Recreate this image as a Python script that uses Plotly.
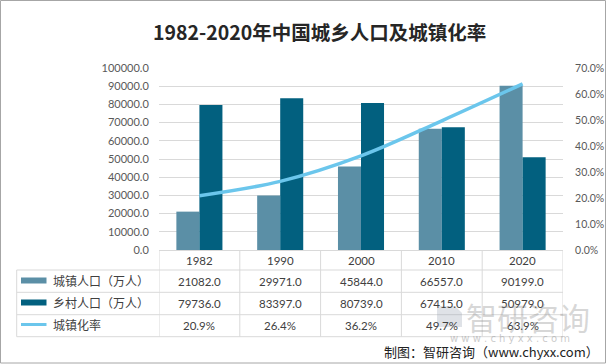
import plotly.graph_objects as go

# ---------------- data ----------------
years = ['1982', '1990', '2000', '2010', '2020']
urban = [21082.0, 29971.0, 45844.0, 66557.0, 90199.0]
rural = [79736.0, 83397.0, 80739.0, 67415.0, 50979.0]
rate = [20.9, 26.4, 36.2, 49.7, 63.9]
series_names = ['城镇人口（万人）', '乡村人口（万人）', '城镇化率']
title_text = '1982-2020年中国城乡人口及城镇化率'
source_text = '制图：智研咨询（www.chyxx.com）'

# ---------------- style ----------------
C_URBAN = '#5B8FA6'
C_RURAL = '#02607F'
C_LINE = '#6BC6EC'
C_GRID = '#D9D9D9'
C_TICK = '#595959'
C_TEXT = '#404040'
NUM_FONT = 'Lato, Open Sans, sans-serif'
CJK_FONT = 'Noto Sans CJK SC, sans-serif'

W, H = 606, 364
L, R, T, B = 159, 563, 68, 250


def px(xp):
    return (xp - L) / (R - L)


def py(yp):
    return (B - yp) / (B - T)


fig = go.Figure()
fig.add_trace(go.Bar(x=years, y=urban, name=series_names[0], marker_color=C_URBAN,
                     marker_line_width=0))
fig.add_trace(go.Bar(x=years, y=rural, name=series_names[1], marker_color=C_RURAL,
                     marker_line_width=0))
fig.add_trace(go.Scatter(x=years, y=[r / 100 for r in rate], name=series_names[2],
                         yaxis='y2', mode='lines',
                         line=dict(color=C_LINE, width=3.5, shape='spline', smoothing=1)))

shapes = []
annotations = []


def ann(**kw):
    kw.setdefault('showarrow', False)
    kw.setdefault('xanchor', 'center')
    kw.setdefault('yanchor', 'middle')
    annotations.append(kw)


# table lines
row_lines = [270, 292.3, 314.7, 336.7]
for yl in row_lines:
    shapes.append(dict(type='line', xref='paper', yref='paper', x0=px(16.7), x1=1,
                       y0=py(yl), y1=py(yl), line=dict(color=C_GRID, width=1)))
shapes.append(dict(type='line', xref='paper', yref='paper', x0=px(16.7), x1=px(16.7),
                   y0=py(270), y1=py(336.7), line=dict(color=C_GRID, width=1)))
for i in range(len(years) + 1):
    shapes.append(dict(type='line', xref='x', yref='paper', x0=i - 0.5, x1=i - 0.5,
                       y0=0, y1=py(336.7), line=dict(color=C_GRID, width=1)))

# header + cell text
row_centers = [281, 303.5, 325.7]
for i, yr in enumerate(years):
    ann(x=i, y=py(260), xref='x', yref='paper', text=yr,
        font=dict(family=NUM_FONT, size=11.5, color=C_TEXT))
    cells = [f'{urban[i]:.1f}', f'{rural[i]:.1f}', f'{rate[i]:.1f}%']
    for j, c in enumerate(cells):
        ann(x=i, y=py(row_centers[j]), xref='x', yref='paper', text=c,
            font=dict(family=NUM_FONT, size=11.5, color=C_TEXT))

# legend column
for j, name in enumerate(series_names):
    ann(x=px(51), y=py(row_centers[j] - 1), xref='paper', yref='paper',
        text=name, xanchor='left',
        font=dict(family=CJK_FONT, size=12, color=C_TEXT))
shapes.append(dict(type='rect', xref='paper', yref='paper', x0=px(21), x1=px(46.5),
                   y0=py(277.5), y1=py(283.5), fillcolor=C_URBAN, line_width=0))
shapes.append(dict(type='rect', xref='paper', yref='paper', x0=px(21), x1=px(46.5),
                   y0=py(299.5), y1=py(305.5), fillcolor=C_RURAL, line_width=0))
shapes.append(dict(type='line', xref='paper', yref='paper', x0=px(21), x1=px(46.5),
                   y0=py(324.5), y1=py(324.5), line=dict(color=C_LINE, width=3)))

# watermark
shapes.append(dict(type='path', xref='paper', yref='paper',
                   path=(f'M {px(437)} {py(306)} L {px(455)} {py(306)} L {px(462)} {py(313)} '
                         f'L {px(462)} {py(327)} L {px(437)} {py(327)} Z'),
                   fillcolor='rgba(150,160,175,0.30)', line_width=0))
ann(x=px(528), y=py(316), xref='paper', yref='paper', text='智研咨询',
    font=dict(family=CJK_FONT, size=31, color='rgba(140,140,140,0.35)'))
ann(x=px(510), y=py(338), xref='paper', yref='paper',
    text='w w w . c h y x x . c o m',
    font=dict(family='DejaVu Sans, sans-serif', size=10, color='rgba(150,150,150,0.5)'))

# source
ann(x=px(601), y=py(351), xref='paper', yref='paper', text=source_text, xanchor='right',
    font=dict(family=CJK_FONT, size=13, color='#222222'))

# title
ann(x=px(319), y=py(31), xref='paper', yref='paper', text=f'<b>{title_text}</b>',
    font=dict(family=CJK_FONT, size=19.5, color='#262626'))

# outer border
shapes.append(dict(type='rect', xref='paper', yref='paper', x0=px(0.5), x1=px(605.5),
                   y0=py(0.5), y1=py(363), line=dict(color='#A6A6A6', width=1)))

fig.update_layout(
    width=W, height=H, autosize=False,
    margin=dict(l=L, r=W - R, t=T, b=H - B, pad=0, autoexpand=False),
    paper_bgcolor='white', plot_bgcolor='white',
    barmode='group', bargap=0.43, bargroupgap=0,
    showlegend=False,
    shapes=shapes, annotations=annotations,
    xaxis=dict(type='category', showticklabels=False, showgrid=False, zeroline=False,
               showline=True, linecolor=C_GRID, linewidth=1, ticks='', range=[-0.5, 4.5],
               automargin=False),
    yaxis=dict(range=[0, 100000], dtick=10000, tickformat='.1f', showgrid=True,
               gridcolor=C_GRID, gridwidth=1, zeroline=False, showline=False,
               ticks='outside', ticklen=7, tickcolor='rgba(0,0,0,0)', automargin=False,
               tickfont=dict(family=NUM_FONT, size=11, color=C_TICK)),
    yaxis2=dict(range=[0, 0.7], dtick=0.1, tickformat='.1%', overlaying='y', side='right',
                showgrid=False, zeroline=False, showline=False, automargin=False,
                ticks='outside', ticklen=9, tickcolor='rgba(0,0,0,0)',
                tickfont=dict(family=NUM_FONT, size=10.5, color=C_TICK)),
)

fig.write_html('out.html', config={'displayModeBar': False},
               post_script="document.body.style.margin='0';document.body.style.padding='0';")
